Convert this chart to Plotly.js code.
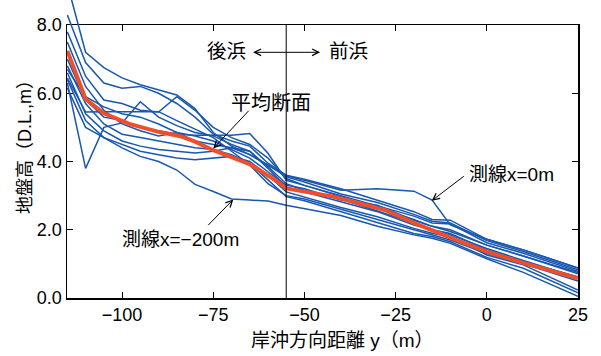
<!DOCTYPE html>
<html><head><meta charset="utf-8">
<script src="https://cdn.plot.ly/plotly-3.0.1.min.js"></script>
<style>html,body{margin:0;padding:0;background:#fff;}#chart{width:601px;height:356px;}</style>
</head><body><div id="chart"></div>
<script>
// Cross-shore stations (m)
const stations = [-115,-110,-105,-100,-95,-90,-85,-80,-75,-70,-65,-60,-55,-50,-40,-30,-20,-15,-10,0,10,25];
// Individual survey lines (ground level, D.L. m)
const line01 = [6.40,5.20,4.70,4.40,4.15,4.00,3.75,3.33,3.12,2.90,2.87,2.84,2.72,2.62,2.42,2.10,1.85,1.75,1.60,1.15,0.75,0.05]; // x=-200m
const line02 = [6.70,5.90,5.60,5.40,5.30,5.10,4.85,4.60,4.50,4.40,4.20,3.90,3.58,3.45,3.16,3.20,3.13,2.87,2.14,1.72,1.41,0.88]; // x=0m
const line03 = [6.30,3.80,5.00,5.13,5.75,5.30,5.05,4.85,4.75,4.50,4.30,3.85,3.35,3.15,2.90,2.55,2.20,2.00,1.85,1.45,1.10,0.60];
const line04 = [9.20,7.20,6.75,6.45,6.25,6.10,5.95,5.55,4.85,4.45,4.20,3.90,3.55,3.40,3.05,2.80,2.45,2.25,2.20,1.68,1.36,0.83];
const line05 = [7.80,6.50,5.80,5.70,5.50,5.45,5.90,5.50,5.00,4.70,4.50,4.10,3.50,3.30,3.00,2.70,2.40,2.20,2.17,1.62,1.31,0.78];
const line06 = [7.00,5.80,5.30,5.20,5.00,4.90,4.80,4.77,4.77,4.77,4.82,4.24,3.45,3.30,2.97,2.63,2.30,2.10,1.95,1.55,1.23,0.71];
const line07 = [8.29,6.90,6.30,6.15,6.20,6.00,5.70,5.30,4.80,4.60,4.45,3.95,3.60,3.48,3.20,2.87,2.53,2.30,2.28,1.72,1.41,0.88];
const line08 = [6.15,5.00,4.70,4.50,4.30,4.20,4.10,4.05,4.10,4.15,4.00,3.60,3.11,2.95,2.65,2.38,2.04,1.90,1.79,1.26,0.97,0.23];
const line09 = [6.60,5.40,4.90,4.60,4.45,4.35,4.30,4.25,4.30,4.40,4.30,3.80,3.25,3.10,2.82,2.53,2.14,2.00,1.89,1.41,1.06,0.62];
const line10 = [6.80,5.70,5.10,4.80,4.70,4.60,4.50,4.40,4.35,4.20,3.95,3.45,2.97,2.85,2.53,2.20,1.89,1.80,1.65,1.19,0.87,0.15];
const line11 = [7.50,6.20,5.50,5.10,4.90,4.75,4.85,4.75,4.60,4.35,4.10,3.70,3.31,3.20,2.87,2.72,2.28,2.10,2.00,1.55,1.23,0.75];
const line12 = [6.45,5.45,5.46,5.46,5.46,5.46,5.20,4.95,4.70,4.30,3.90,3.35,3.00,2.90,2.60,2.30,2.00,1.85,1.70,1.30,1.00,0.50];
const surveyLines = [line01,line02,line03,line04,line05,line06,line07,line08,line09,line10,line11,line12];
// Mean profile
const meanX = [-115,-110,-105,-98,-90,-84,-80,-75,-65,-58,-55,-42,-28,-20,-10,0,9,25];
const meanY = [7.24,5.83,5.41,5.10,4.87,4.74,4.58,4.33,3.92,3.46,3.21,2.97,2.58,2.20,1.77,1.36,1.06,0.58];
// Axis ticks
const xTicks = [-100,-75,-50,-25,0,25];
const xTickText = ['−100','−75','−50','−25','0','25'];
const yTicks = [0,2,4,6,8];
const yTickText = ['0.0','2.0','4.0','6.0','8.0'];
const boundaryX = -55;

const BLUE = '#1858b0', RED = '#f04e2a';
const traces = surveyLines.map(v => ({
  x: stations, y: v, type: 'scatter', mode: 'lines', xaxis: 'x', yaxis: 'y2',
  line: {color: BLUE, width: 1.5}, hoverinfo: 'skip', showlegend: false
}));
traces.push({x: meanX, y: meanY, type: 'scatter', mode: 'lines', xaxis: 'x', yaxis: 'y2',
  line: {color: RED, width: 4}, showlegend: false});

const H = 298, TOP = 25;
const domTop = (H - TOP) / H;
const FONT = '"Liberation Sans", Arial, "Noto Sans CJK JP", sans-serif';
const ann = (text, x, y, size) => ({text, x, y, xref: 'x', yref: 'y', showarrow: false,
  xanchor: 'center', yanchor: 'middle', font: {size: size || 19, color: '#000', family: FONT}});
const arr = (x, y, axv, ayv, side) => ({text: '', x, y, ax: axv, ay: ayv, xref: 'x', yref: 'y',
  axref: 'x', ayref: 'y', showarrow: true, arrowhead: 5, startarrowhead: 5, arrowside: side || 'end',
  arrowsize: 1.3, startarrowsize: 1.3, arrowwidth: 1, arrowcolor: '#000'});

const layout = {
  width: 601, height: 356,
  margin: {l: 67, r: 23, t: 0, b: 58},
  paper_bgcolor: '#fff', plot_bgcolor: 'rgba(0,0,0,0)',
  font: {family: FONT, size: 18, color: '#000'},
  xaxis: {range: [-115.1, 25], tickvals: xTicks, ticktext: xTickText, ticks: 'inside', ticklen: 6,
    tickwidth: 1, tickcolor: '#000', showline: true, linecolor: '#000', linewidth: 1.5, mirror: 'ticks',
    showgrid: false, zeroline: false, anchor: 'y', tickfont: {size: 18}},
  yaxis: {range: [0, 8], domain: [0, domTop], tickvals: yTicks, ticktext: yTickText, ticks: 'inside',
    ticklen: 6, tickwidth: 1, tickcolor: '#000', showline: true, linecolor: '#000', linewidth: 1.5,
    mirror: 'ticks', showgrid: false, zeroline: false, anchor: 'x', tickfont: {size: 18}},
  yaxis2: {range: [0, 8 / domTop], domain: [0, 1], anchor: 'x', visible: false, showgrid: false, zeroline: false},
  shapes: [{type: 'line', xref: 'x', yref: 'y', x0: boundaryX, x1: boundaryX, y0: 0, y1: 8,
    line: {color: '#000', width: 1}}],
  annotations: [
    ann('後浜', -71.5, 7.23, 19.5), ann('前浜', -37.8, 7.23, 19.5),
    arr(-45.7, 7.20, -64.5, 7.20, 'end+start'),
    ann('平均断面', -59.2, 5.71, 20), arr(-75.0, 4.38, -64.9, 5.53),
    ann('測線x=0m', 6.7, 3.63, 19), arr(-15.1, 2.85, -5.9, 3.60),
    ann('測線x=−200m', -84.1, 1.70, 19), arr(-69.5, 2.89, -76.8, 2.09),
    {text: '岸沖方向距離 y（m）', xref: 'paper', yref: 'paper', x: (342 - 67) / 511, y: (H - 340) / H,
      xanchor: 'center', yanchor: 'middle', showarrow: false, font: {size: 19, family: FONT}},
    {text: '地盤高（D.L.,m）', xref: 'paper', yref: 'paper', x: (25 - 67) / 511, y: (H - 143) / H,
      xanchor: 'center', yanchor: 'middle', textangle: -90, showarrow: false, font: {size: 18, family: FONT}}
  ]
};
Plotly.newPlot('chart', traces, layout, {displayModeBar: false, staticPlot: true});
</script></body></html>
